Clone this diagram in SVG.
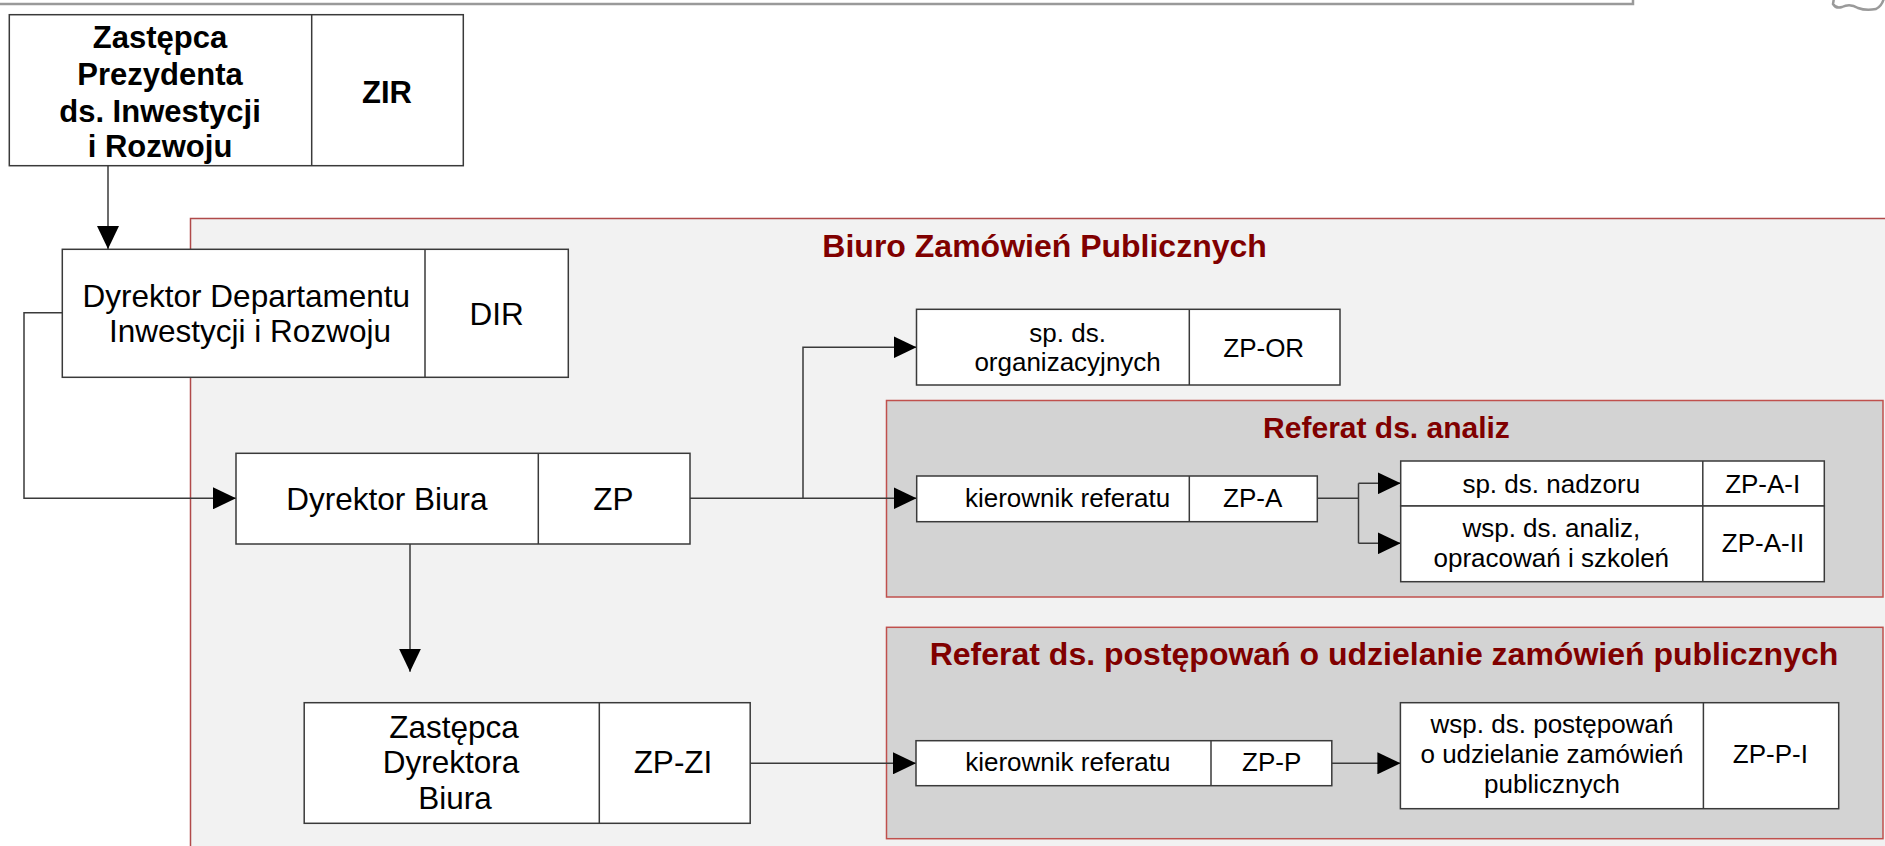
<svg xmlns="http://www.w3.org/2000/svg" width="1885" height="846" viewBox="0 0 1885 846">
<defs>
<style>
.bg{fill:#ffffff}
.box{fill:#ffffff;stroke:#3a3a3a;stroke-width:1.5}
.div{stroke:#3a3a3a;stroke-width:1.5}
.t{font-family:"Liberation Sans",Arial,sans-serif;text-anchor:middle;fill:#000000}
.big{font-size:31.5px}
.sm{font-size:26px}
.b{font-weight:bold}
.title{font-family:"Liberation Sans",Arial,sans-serif;text-anchor:middle;fill:#800000;font-weight:bold}
.conn{fill:none;stroke:#3a3a3a;stroke-width:1.5}
.biuro{fill:#f2f2f2;stroke:#b04a4a;stroke-width:1.5}
.ref{fill:#d3d3d3;stroke:#c0504d;stroke-width:1.5}
.hdr{fill:none;stroke:#9a9a9a;stroke-width:2.5}
</style>
<marker id="arr" markerUnits="userSpaceOnUse" markerWidth="23" markerHeight="22" refX="23" refY="11" orient="auto">
<path d="M0,0 L23,11 L0,22 Z" fill="#000000"/>
</marker>
</defs>
<rect class="bg" x="0" y="0" width="1885" height="846"/>

<g id="header">
<path class="hdr" d="M0,4 H1633 V-2"/>
<path class="hdr" d="M1834,-2 L1833,4 Q1836,9 1842,7 Q1850,3 1858,8 Q1866,11 1876,9 Q1882,6 1884,-2"/>
</g>

<g id="biuro">
<rect class="biuro" x="190.5" y="218.5" width="1710" height="700"/>
<text class="title" x="1044.6" y="257.3" font-size="32">Biuro Zamówień Publicznych</text>
</g>

<g id="referat-analiz">
<rect class="ref" x="886.5" y="400.5" width="996.5" height="196.5"/>
<text class="title" x="1386.5" y="437.5" font-size="30">Referat ds. analiz</text>
</g>

<g id="referat-postepowan">
<rect class="ref" x="886.5" y="627.3" width="996.5" height="211.4"/>
<text class="title" x="1384" y="665" font-size="32">Referat ds. postępowań o udzielanie zamówień publicznych</text>
</g>

<g id="connectors">
<path class="conn" d="M108,165.7 V249" marker-end="url(#arr)"/>
<path class="conn" d="M62.3,312.7 H24 V498.3 H236" marker-end="url(#arr)"/>
<path class="conn" d="M690,498.3 H916.5" marker-end="url(#arr)"/>
<path class="conn" d="M803,498.3 V347.3 H916.5" marker-end="url(#arr)"/>
<path class="conn" d="M410,544 V671.7" marker-end="url(#arr)"/>
<path class="conn" d="M1317.3,498.3 H1358.5"/>
<path class="conn" d="M1358.5,483.3 V543.3"/>
<path class="conn" d="M1358.5,483.3 H1400.7" marker-end="url(#arr)"/>
<path class="conn" d="M1358.5,543.3 H1400.7" marker-end="url(#arr)"/>
<path class="conn" d="M750.2,763.3 H916" marker-end="url(#arr)"/>
<path class="conn" d="M1331.8,763.3 H1400.4" marker-end="url(#arr)"/>
</g>

<g id="ZIR">
<rect class="box" x="9.3" y="14.7" width="454" height="151"/>
<line class="div" x1="311.7" y1="14.7" x2="311.7" y2="165.7"/>
<text class="t b" font-size="31" x="160" y="47.7">Zastępca</text>
<text class="t b" font-size="31" x="160" y="85">Prezydenta</text>
<text class="t b" font-size="31" x="160" y="121.7">ds. Inwestycji</text>
<text class="t b" font-size="31" x="160" y="156.7">i Rozwoju</text>
<text class="t b" font-size="31" x="387" y="103.3">ZIR</text>
</g>

<g id="DIR">
<rect class="box" x="62.3" y="249.3" width="506" height="128"/>
<line class="div" x1="425" y1="249.3" x2="425" y2="377.3"/>
<text class="t big" x="246.3" y="306.7">Dyrektor Departamentu</text>
<text class="t big" x="250" y="341.7">Inwestycji i Rozwoju</text>
<text class="t big" x="496.7" y="325">DIR</text>
</g>

<g id="ZP">
<rect class="box" x="236" y="453.3" width="454" height="90.7"/>
<line class="div" x1="538.3" y1="453.3" x2="538.3" y2="544"/>
<text class="t big" x="386.8" y="510">Dyrektor Biura</text>
<text class="t big" x="613.3" y="510">ZP</text>
</g>

<g id="ZP-ZI">
<rect class="box" x="304.2" y="702.7" width="446" height="120.6"/>
<line class="div" x1="599.3" y1="702.7" x2="599.3" y2="823.3"/>
<text class="t big" x="454" y="738.3">Zastępca</text>
<text class="t big" x="451" y="773.3">Dyrektora</text>
<text class="t big" x="455" y="809.3">Biura</text>
<text class="t big" x="673" y="773.3">ZP-ZI</text>
</g>

<g id="ZP-OR">
<rect class="box" x="916.5" y="309.3" width="423.5" height="75.7"/>
<line class="div" x1="1189.3" y1="309.3" x2="1189.3" y2="385"/>
<text class="t sm" x="1067.6" y="341.7">sp. ds.</text>
<text class="t sm" x="1067.6" y="370.7">organizacyjnych</text>
<text class="t sm" x="1263.7" y="356.7">ZP-OR</text>
</g>

<g id="ZP-A">
<rect class="box" x="916.7" y="476" width="400.6" height="45.7"/>
<line class="div" x1="1189.3" y1="476" x2="1189.3" y2="521.7"/>
<text class="t sm" x="1067.5" y="507.3">kierownik referatu</text>
<text class="t sm" x="1252.7" y="507.3">ZP-A</text>
</g>

<g id="ZP-A-I">
<rect class="box" x="1400.7" y="461" width="423.6" height="45"/>
<line class="div" x1="1702.8" y1="461" x2="1702.8" y2="506"/>
<text class="t sm" x="1551.3" y="492.7">sp. ds. nadzoru</text>
<text class="t sm" x="1762.7" y="492.7">ZP-A-I</text>
</g>

<g id="ZP-A-II">
<rect class="box" x="1400.7" y="506" width="423.6" height="75.7"/>
<line class="div" x1="1702.8" y1="506" x2="1702.8" y2="581.7"/>
<text class="t sm" x="1551.3" y="537.3">wsp. ds. analiz,</text>
<text class="t sm" x="1551.3" y="566.7">opracowań i szkoleń</text>
<text class="t sm" x="1763" y="551.7">ZP-A-II</text>
</g>

<g id="ZP-P">
<rect class="box" x="916" y="740.7" width="415.8" height="45"/>
<line class="div" x1="1211" y1="740.7" x2="1211" y2="785.7"/>
<text class="t sm" x="1067.8" y="770.7">kierownik referatu</text>
<text class="t sm" x="1271.7" y="770.7">ZP-P</text>
</g>

<g id="ZP-P-I">
<rect class="box" x="1400.4" y="702.7" width="438.3" height="106"/>
<line class="div" x1="1703.4" y1="702.7" x2="1703.4" y2="808.7"/>
<text class="t sm" x="1552" y="733.3">wsp. ds. postępowań</text>
<text class="t sm" x="1552" y="763.3">o udzielanie zamówień</text>
<text class="t sm" x="1552" y="792.7">publicznych</text>
<text class="t sm" x="1770.4" y="763.3">ZP-P-I</text>
</g>
</svg>
